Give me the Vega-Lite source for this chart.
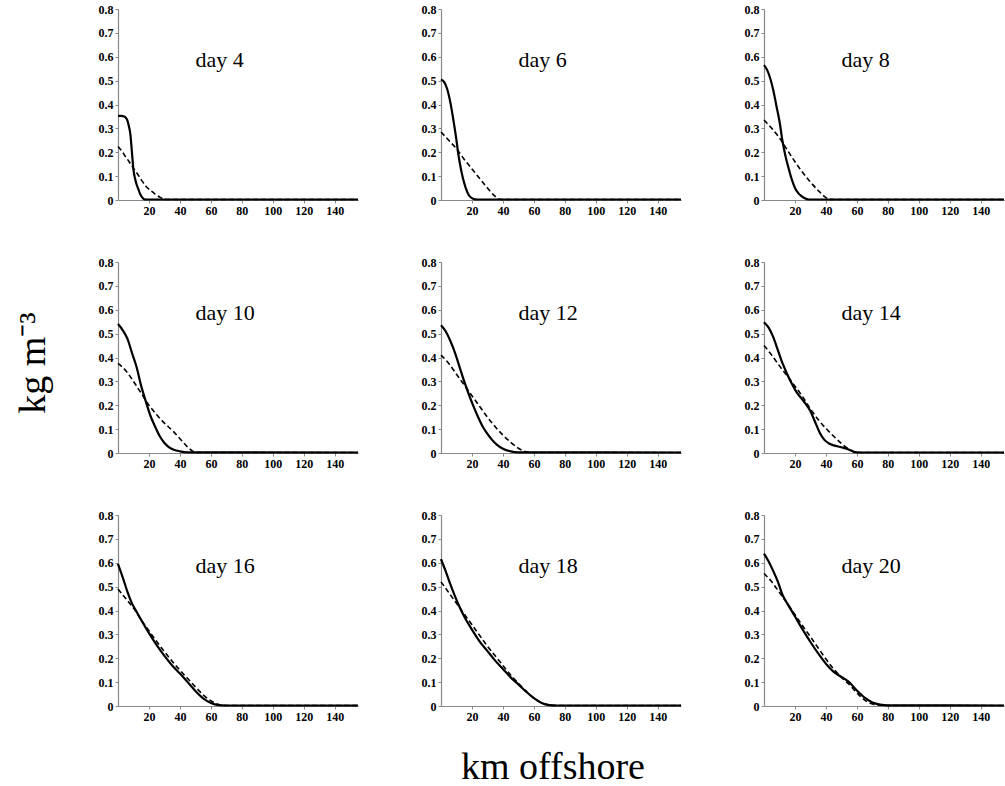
{
"$schema": "https://vega.github.io/schema/vega-lite/v6.json",
"background": "white",
"padding": {"left": 15, "top": 3, "right": 0, "bottom": 0},
"data": {"values": [
{"day":4,"row":1,"col":1,"series":"solid","km":0,"conc":0.352,"label":"day   4"},
{"day":4,"row":1,"col":1,"series":"solid","km":2,"conc":0.352},
{"day":4,"row":1,"col":1,"series":"solid","km":4,"conc":0.35},
{"day":4,"row":1,"col":1,"series":"solid","km":5,"conc":0.345},
{"day":4,"row":1,"col":1,"series":"solid","km":6,"conc":0.335},
{"day":4,"row":1,"col":1,"series":"solid","km":7,"conc":0.31},
{"day":4,"row":1,"col":1,"series":"solid","km":8,"conc":0.275},
{"day":4,"row":1,"col":1,"series":"solid","km":9,"conc":0.2},
{"day":4,"row":1,"col":1,"series":"solid","km":10,"conc":0.125},
{"day":4,"row":1,"col":1,"series":"solid","km":11,"conc":0.09},
{"day":4,"row":1,"col":1,"series":"solid","km":12,"conc":0.065},
{"day":4,"row":1,"col":1,"series":"solid","km":13,"conc":0.048},
{"day":4,"row":1,"col":1,"series":"solid","km":14,"conc":0.03},
{"day":4,"row":1,"col":1,"series":"solid","km":15,"conc":0.017},
{"day":4,"row":1,"col":1,"series":"solid","km":16,"conc":0.008},
{"day":4,"row":1,"col":1,"series":"solid","km":17,"conc":0.003},
{"day":4,"row":1,"col":1,"series":"solid","km":20,"conc":0.002},
{"day":4,"row":1,"col":1,"series":"solid","km":155,"conc":0.002},
{"day":4,"row":1,"col":1,"series":"dashed","km":0,"conc":0.224},
{"day":4,"row":1,"col":1,"series":"dashed","km":3,"conc":0.2},
{"day":4,"row":1,"col":1,"series":"dashed","km":5,"conc":0.18},
{"day":4,"row":1,"col":1,"series":"dashed","km":7,"conc":0.162},
{"day":4,"row":1,"col":1,"series":"dashed","km":9,"conc":0.142},
{"day":4,"row":1,"col":1,"series":"dashed","km":12,"conc":0.115},
{"day":4,"row":1,"col":1,"series":"dashed","km":15,"conc":0.085},
{"day":4,"row":1,"col":1,"series":"dashed","km":18,"conc":0.058},
{"day":4,"row":1,"col":1,"series":"dashed","km":21,"conc":0.04},
{"day":4,"row":1,"col":1,"series":"dashed","km":24,"conc":0.025},
{"day":4,"row":1,"col":1,"series":"dashed","km":27,"conc":0.012},
{"day":4,"row":1,"col":1,"series":"dashed","km":30,"conc":0.003},
{"day":4,"row":1,"col":1,"series":"dashed","km":33,"conc":0.002},
{"day":4,"row":1,"col":1,"series":"dashed","km":155,"conc":0.002},

{"day":6,"row":1,"col":2,"series":"solid","km":0,"conc":0.505,"label":"day   6"},
{"day":6,"row":1,"col":2,"series":"solid","km":2,"conc":0.495},
{"day":6,"row":1,"col":2,"series":"solid","km":4,"conc":0.465},
{"day":6,"row":1,"col":2,"series":"solid","km":6,"conc":0.41},
{"day":6,"row":1,"col":2,"series":"solid","km":8,"conc":0.335},
{"day":6,"row":1,"col":2,"series":"solid","km":10,"conc":0.25},
{"day":6,"row":1,"col":2,"series":"solid","km":11,"conc":0.2},
{"day":6,"row":1,"col":2,"series":"solid","km":12,"conc":0.16},
{"day":6,"row":1,"col":2,"series":"solid","km":14,"conc":0.095},
{"day":6,"row":1,"col":2,"series":"solid","km":16,"conc":0.05},
{"day":6,"row":1,"col":2,"series":"solid","km":18,"conc":0.02},
{"day":6,"row":1,"col":2,"series":"solid","km":20,"conc":0.008},
{"day":6,"row":1,"col":2,"series":"solid","km":22,"conc":0.003},
{"day":6,"row":1,"col":2,"series":"solid","km":25,"conc":0.002},
{"day":6,"row":1,"col":2,"series":"solid","km":155,"conc":0.002},
{"day":6,"row":1,"col":2,"series":"dashed","km":0,"conc":0.285},
{"day":6,"row":1,"col":2,"series":"dashed","km":5,"conc":0.25},
{"day":6,"row":1,"col":2,"series":"dashed","km":10,"conc":0.215},
{"day":6,"row":1,"col":2,"series":"dashed","km":15,"conc":0.17},
{"day":6,"row":1,"col":2,"series":"dashed","km":20,"conc":0.13},
{"day":6,"row":1,"col":2,"series":"dashed","km":25,"conc":0.09},
{"day":6,"row":1,"col":2,"series":"dashed","km":30,"conc":0.05},
{"day":6,"row":1,"col":2,"series":"dashed","km":35,"conc":0.015},
{"day":6,"row":1,"col":2,"series":"dashed","km":38,"conc":0.003},
{"day":6,"row":1,"col":2,"series":"dashed","km":40,"conc":0.002},
{"day":6,"row":1,"col":2,"series":"dashed","km":155,"conc":0.002},

{"day":8,"row":1,"col":3,"series":"solid","km":0,"conc":0.565,"label":"day   8"},
{"day":8,"row":1,"col":3,"series":"solid","km":2,"conc":0.545},
{"day":8,"row":1,"col":3,"series":"solid","km":4,"conc":0.51},
{"day":8,"row":1,"col":3,"series":"solid","km":6,"conc":0.46},
{"day":8,"row":1,"col":3,"series":"solid","km":8,"conc":0.395},
{"day":8,"row":1,"col":3,"series":"solid","km":10,"conc":0.33},
{"day":8,"row":1,"col":3,"series":"solid","km":12,"conc":0.245},
{"day":8,"row":1,"col":3,"series":"solid","km":14,"conc":0.18},
{"day":8,"row":1,"col":3,"series":"solid","km":16,"conc":0.13},
{"day":8,"row":1,"col":3,"series":"solid","km":18,"conc":0.085},
{"day":8,"row":1,"col":3,"series":"solid","km":20,"conc":0.05},
{"day":8,"row":1,"col":3,"series":"solid","km":22,"conc":0.03},
{"day":8,"row":1,"col":3,"series":"solid","km":24,"conc":0.017},
{"day":8,"row":1,"col":3,"series":"solid","km":26,"conc":0.008},
{"day":8,"row":1,"col":3,"series":"solid","km":29,"conc":0.002},
{"day":8,"row":1,"col":3,"series":"solid","km":155,"conc":0.002},
{"day":8,"row":1,"col":3,"series":"dashed","km":0,"conc":0.335},
{"day":8,"row":1,"col":3,"series":"dashed","km":5,"conc":0.3},
{"day":8,"row":1,"col":3,"series":"dashed","km":10,"conc":0.26},
{"day":8,"row":1,"col":3,"series":"dashed","km":15,"conc":0.21},
{"day":8,"row":1,"col":3,"series":"dashed","km":20,"conc":0.16},
{"day":8,"row":1,"col":3,"series":"dashed","km":25,"conc":0.115},
{"day":8,"row":1,"col":3,"series":"dashed","km":30,"conc":0.075},
{"day":8,"row":1,"col":3,"series":"dashed","km":35,"conc":0.04},
{"day":8,"row":1,"col":3,"series":"dashed","km":40,"conc":0.01},
{"day":8,"row":1,"col":3,"series":"dashed","km":42,"conc":0.003},
{"day":8,"row":1,"col":3,"series":"dashed","km":45,"conc":0.002},
{"day":8,"row":1,"col":3,"series":"dashed","km":155,"conc":0.002},

{"day":10,"row":2,"col":1,"series":"solid","km":0,"conc":0.54,"label":"day   10"},
{"day":10,"row":2,"col":1,"series":"solid","km":3,"conc":0.515},
{"day":10,"row":2,"col":1,"series":"solid","km":6,"conc":0.48},
{"day":10,"row":2,"col":1,"series":"solid","km":9,"conc":0.42},
{"day":10,"row":2,"col":1,"series":"solid","km":12,"conc":0.36},
{"day":10,"row":2,"col":1,"series":"solid","km":15,"conc":0.28},
{"day":10,"row":2,"col":1,"series":"solid","km":18,"conc":0.215},
{"day":10,"row":2,"col":1,"series":"solid","km":21,"conc":0.155},
{"day":10,"row":2,"col":1,"series":"solid","km":24,"conc":0.11},
{"day":10,"row":2,"col":1,"series":"solid","km":27,"conc":0.07},
{"day":10,"row":2,"col":1,"series":"solid","km":30,"conc":0.042},
{"day":10,"row":2,"col":1,"series":"solid","km":33,"conc":0.024},
{"day":10,"row":2,"col":1,"series":"solid","km":36,"conc":0.014},
{"day":10,"row":2,"col":1,"series":"solid","km":40,"conc":0.007},
{"day":10,"row":2,"col":1,"series":"solid","km":45,"conc":0.003},
{"day":10,"row":2,"col":1,"series":"solid","km":155,"conc":0.002},
{"day":10,"row":2,"col":1,"series":"dashed","km":0,"conc":0.375},
{"day":10,"row":2,"col":1,"series":"dashed","km":5,"conc":0.345},
{"day":10,"row":2,"col":1,"series":"dashed","km":10,"conc":0.3},
{"day":10,"row":2,"col":1,"series":"dashed","km":15,"conc":0.25},
{"day":10,"row":2,"col":1,"series":"dashed","km":20,"conc":0.2},
{"day":10,"row":2,"col":1,"series":"dashed","km":25,"conc":0.16},
{"day":10,"row":2,"col":1,"series":"dashed","km":30,"conc":0.125},
{"day":10,"row":2,"col":1,"series":"dashed","km":35,"conc":0.095},
{"day":10,"row":2,"col":1,"series":"dashed","km":40,"conc":0.06},
{"day":10,"row":2,"col":1,"series":"dashed","km":45,"conc":0.025},
{"day":10,"row":2,"col":1,"series":"dashed","km":49,"conc":0.005},
{"day":10,"row":2,"col":1,"series":"dashed","km":52,"conc":0.002},
{"day":10,"row":2,"col":1,"series":"dashed","km":155,"conc":0.002},

{"day":12,"row":2,"col":2,"series":"solid","km":0,"conc":0.535,"label":"day   12"},
{"day":12,"row":2,"col":2,"series":"solid","km":3,"conc":0.51},
{"day":12,"row":2,"col":2,"series":"solid","km":6,"conc":0.47},
{"day":12,"row":2,"col":2,"series":"solid","km":9,"conc":0.42},
{"day":12,"row":2,"col":2,"series":"solid","km":12,"conc":0.36},
{"day":12,"row":2,"col":2,"series":"solid","km":15,"conc":0.3},
{"day":12,"row":2,"col":2,"series":"solid","km":18,"conc":0.245},
{"day":12,"row":2,"col":2,"series":"solid","km":21,"conc":0.195},
{"day":12,"row":2,"col":2,"series":"solid","km":24,"conc":0.15},
{"day":12,"row":2,"col":2,"series":"solid","km":27,"conc":0.11},
{"day":12,"row":2,"col":2,"series":"solid","km":30,"conc":0.08},
{"day":12,"row":2,"col":2,"series":"solid","km":33,"conc":0.055},
{"day":12,"row":2,"col":2,"series":"solid","km":36,"conc":0.035},
{"day":12,"row":2,"col":2,"series":"solid","km":40,"conc":0.018},
{"day":12,"row":2,"col":2,"series":"solid","km":45,"conc":0.007},
{"day":12,"row":2,"col":2,"series":"solid","km":50,"conc":0.003},
{"day":12,"row":2,"col":2,"series":"solid","km":155,"conc":0.002},
{"day":12,"row":2,"col":2,"series":"dashed","km":0,"conc":0.41},
{"day":12,"row":2,"col":2,"series":"dashed","km":5,"conc":0.375},
{"day":12,"row":2,"col":2,"series":"dashed","km":10,"conc":0.33},
{"day":12,"row":2,"col":2,"series":"dashed","km":15,"conc":0.285},
{"day":12,"row":2,"col":2,"series":"dashed","km":20,"conc":0.24},
{"day":12,"row":2,"col":2,"series":"dashed","km":25,"conc":0.195},
{"day":12,"row":2,"col":2,"series":"dashed","km":30,"conc":0.15},
{"day":12,"row":2,"col":2,"series":"dashed","km":35,"conc":0.11},
{"day":12,"row":2,"col":2,"series":"dashed","km":40,"conc":0.075},
{"day":12,"row":2,"col":2,"series":"dashed","km":45,"conc":0.045},
{"day":12,"row":2,"col":2,"series":"dashed","km":50,"conc":0.02},
{"day":12,"row":2,"col":2,"series":"dashed","km":55,"conc":0.005},
{"day":12,"row":2,"col":2,"series":"dashed","km":58,"conc":0.002},
{"day":12,"row":2,"col":2,"series":"dashed","km":155,"conc":0.002},

{"day":14,"row":2,"col":3,"series":"solid","km":0,"conc":0.548,"label":"day   14"},
{"day":14,"row":2,"col":3,"series":"solid","km":3,"conc":0.525},
{"day":14,"row":2,"col":3,"series":"solid","km":6,"conc":0.485},
{"day":14,"row":2,"col":3,"series":"solid","km":9,"conc":0.43},
{"day":14,"row":2,"col":3,"series":"solid","km":12,"conc":0.375},
{"day":14,"row":2,"col":3,"series":"solid","km":15,"conc":0.33},
{"day":14,"row":2,"col":3,"series":"solid","km":18,"conc":0.29},
{"day":14,"row":2,"col":3,"series":"solid","km":21,"conc":0.255},
{"day":14,"row":2,"col":3,"series":"solid","km":24,"conc":0.23},
{"day":14,"row":2,"col":3,"series":"solid","km":27,"conc":0.205},
{"day":14,"row":2,"col":3,"series":"solid","km":30,"conc":0.175},
{"day":14,"row":2,"col":3,"series":"solid","km":33,"conc":0.13},
{"day":14,"row":2,"col":3,"series":"solid","km":36,"conc":0.085},
{"day":14,"row":2,"col":3,"series":"solid","km":39,"conc":0.055},
{"day":14,"row":2,"col":3,"series":"solid","km":42,"conc":0.04},
{"day":14,"row":2,"col":3,"series":"solid","km":45,"conc":0.032},
{"day":14,"row":2,"col":3,"series":"solid","km":50,"conc":0.024},
{"day":14,"row":2,"col":3,"series":"solid","km":55,"conc":0.014},
{"day":14,"row":2,"col":3,"series":"solid","km":58,"conc":0.005},
{"day":14,"row":2,"col":3,"series":"solid","km":62,"conc":0.002},
{"day":14,"row":2,"col":3,"series":"solid","km":155,"conc":0.002},
{"day":14,"row":2,"col":3,"series":"dashed","km":0,"conc":0.45},
{"day":14,"row":2,"col":3,"series":"dashed","km":5,"conc":0.41},
{"day":14,"row":2,"col":3,"series":"dashed","km":10,"conc":0.365},
{"day":14,"row":2,"col":3,"series":"dashed","km":15,"conc":0.323},
{"day":14,"row":2,"col":3,"series":"dashed","km":20,"conc":0.28},
{"day":14,"row":2,"col":3,"series":"dashed","km":25,"conc":0.235},
{"day":14,"row":2,"col":3,"series":"dashed","km":30,"conc":0.185},
{"day":14,"row":2,"col":3,"series":"dashed","km":35,"conc":0.14},
{"day":14,"row":2,"col":3,"series":"dashed","km":40,"conc":0.103},
{"day":14,"row":2,"col":3,"series":"dashed","km":45,"conc":0.07},
{"day":14,"row":2,"col":3,"series":"dashed","km":50,"conc":0.04},
{"day":14,"row":2,"col":3,"series":"dashed","km":55,"conc":0.015},
{"day":14,"row":2,"col":3,"series":"dashed","km":58,"conc":0.005},
{"day":14,"row":2,"col":3,"series":"dashed","km":61,"conc":0.002},
{"day":14,"row":2,"col":3,"series":"dashed","km":155,"conc":0.002},

{"day":16,"row":3,"col":1,"series":"solid","km":0,"conc":0.595,"label":"day   16"},
{"day":16,"row":3,"col":1,"series":"solid","km":3,"conc":0.54},
{"day":16,"row":3,"col":1,"series":"solid","km":6,"conc":0.48},
{"day":16,"row":3,"col":1,"series":"solid","km":9,"conc":0.43},
{"day":16,"row":3,"col":1,"series":"solid","km":12,"conc":0.395},
{"day":16,"row":3,"col":1,"series":"solid","km":15,"conc":0.36},
{"day":16,"row":3,"col":1,"series":"solid","km":20,"conc":0.305},
{"day":16,"row":3,"col":1,"series":"solid","km":25,"conc":0.255},
{"day":16,"row":3,"col":1,"series":"solid","km":30,"conc":0.21},
{"day":16,"row":3,"col":1,"series":"solid","km":35,"conc":0.17},
{"day":16,"row":3,"col":1,"series":"solid","km":40,"conc":0.136},
{"day":16,"row":3,"col":1,"series":"solid","km":45,"conc":0.1},
{"day":16,"row":3,"col":1,"series":"solid","km":50,"conc":0.063},
{"day":16,"row":3,"col":1,"series":"solid","km":55,"conc":0.032},
{"day":16,"row":3,"col":1,"series":"solid","km":60,"conc":0.013},
{"day":16,"row":3,"col":1,"series":"solid","km":65,"conc":0.004},
{"day":16,"row":3,"col":1,"series":"solid","km":70,"conc":0.002},
{"day":16,"row":3,"col":1,"series":"solid","km":155,"conc":0.002},
{"day":16,"row":3,"col":1,"series":"dashed","km":0,"conc":0.49},
{"day":16,"row":3,"col":1,"series":"dashed","km":5,"conc":0.45},
{"day":16,"row":3,"col":1,"series":"dashed","km":10,"conc":0.41},
{"day":16,"row":3,"col":1,"series":"dashed","km":15,"conc":0.36},
{"day":16,"row":3,"col":1,"series":"dashed","km":20,"conc":0.315},
{"day":16,"row":3,"col":1,"series":"dashed","km":25,"conc":0.27},
{"day":16,"row":3,"col":1,"series":"dashed","km":30,"conc":0.228},
{"day":16,"row":3,"col":1,"series":"dashed","km":35,"conc":0.187},
{"day":16,"row":3,"col":1,"series":"dashed","km":40,"conc":0.15},
{"day":16,"row":3,"col":1,"series":"dashed","km":45,"conc":0.115},
{"day":16,"row":3,"col":1,"series":"dashed","km":50,"conc":0.08},
{"day":16,"row":3,"col":1,"series":"dashed","km":55,"conc":0.047},
{"day":16,"row":3,"col":1,"series":"dashed","km":60,"conc":0.022},
{"day":16,"row":3,"col":1,"series":"dashed","km":64,"conc":0.008},
{"day":16,"row":3,"col":1,"series":"dashed","km":68,"conc":0.003},
{"day":16,"row":3,"col":1,"series":"dashed","km":70,"conc":0.002},
{"day":16,"row":3,"col":1,"series":"dashed","km":155,"conc":0.002},

{"day":18,"row":3,"col":2,"series":"solid","km":0,"conc":0.615,"label":"day   18"},
{"day":18,"row":3,"col":2,"series":"solid","km":3,"conc":0.565},
{"day":18,"row":3,"col":2,"series":"solid","km":6,"conc":0.51},
{"day":18,"row":3,"col":2,"series":"solid","km":9,"conc":0.46},
{"day":18,"row":3,"col":2,"series":"solid","km":12,"conc":0.415},
{"day":18,"row":3,"col":2,"series":"solid","km":15,"conc":0.375},
{"day":18,"row":3,"col":2,"series":"solid","km":20,"conc":0.32},
{"day":18,"row":3,"col":2,"series":"solid","km":25,"conc":0.27},
{"day":18,"row":3,"col":2,"series":"solid","km":30,"conc":0.23},
{"day":18,"row":3,"col":2,"series":"solid","km":35,"conc":0.19},
{"day":18,"row":3,"col":2,"series":"solid","km":40,"conc":0.155},
{"day":18,"row":3,"col":2,"series":"solid","km":45,"conc":0.12},
{"day":18,"row":3,"col":2,"series":"solid","km":50,"conc":0.09},
{"day":18,"row":3,"col":2,"series":"solid","km":55,"conc":0.06},
{"day":18,"row":3,"col":2,"series":"solid","km":60,"conc":0.033},
{"day":18,"row":3,"col":2,"series":"solid","km":65,"conc":0.013},
{"day":18,"row":3,"col":2,"series":"solid","km":70,"conc":0.004},
{"day":18,"row":3,"col":2,"series":"solid","km":75,"conc":0.002},
{"day":18,"row":3,"col":2,"series":"solid","km":155,"conc":0.002},
{"day":18,"row":3,"col":2,"series":"dashed","km":0,"conc":0.52},
{"day":18,"row":3,"col":2,"series":"dashed","km":5,"conc":0.475},
{"day":18,"row":3,"col":2,"series":"dashed","km":10,"conc":0.43},
{"day":18,"row":3,"col":2,"series":"dashed","km":15,"conc":0.385},
{"day":18,"row":3,"col":2,"series":"dashed","km":20,"conc":0.34},
{"day":18,"row":3,"col":2,"series":"dashed","km":25,"conc":0.295},
{"day":18,"row":3,"col":2,"series":"dashed","km":30,"conc":0.25},
{"day":18,"row":3,"col":2,"series":"dashed","km":35,"conc":0.21},
{"day":18,"row":3,"col":2,"series":"dashed","km":40,"conc":0.17},
{"day":18,"row":3,"col":2,"series":"dashed","km":45,"conc":0.13},
{"day":18,"row":3,"col":2,"series":"dashed","km":50,"conc":0.095},
{"day":18,"row":3,"col":2,"series":"dashed","km":55,"conc":0.062},
{"day":18,"row":3,"col":2,"series":"dashed","km":60,"conc":0.033},
{"day":18,"row":3,"col":2,"series":"dashed","km":65,"conc":0.013},
{"day":18,"row":3,"col":2,"series":"dashed","km":70,"conc":0.004},
{"day":18,"row":3,"col":2,"series":"dashed","km":75,"conc":0.002},
{"day":18,"row":3,"col":2,"series":"dashed","km":155,"conc":0.002},

{"day":20,"row":3,"col":3,"series":"solid","km":0,"conc":0.638,"label":"day   20"},
{"day":20,"row":3,"col":3,"series":"solid","km":3,"conc":0.605},
{"day":20,"row":3,"col":3,"series":"solid","km":6,"conc":0.565},
{"day":20,"row":3,"col":3,"series":"solid","km":9,"conc":0.52},
{"day":20,"row":3,"col":3,"series":"solid","km":12,"conc":0.465},
{"day":20,"row":3,"col":3,"series":"solid","km":15,"conc":0.43},
{"day":20,"row":3,"col":3,"series":"solid","km":20,"conc":0.375},
{"day":20,"row":3,"col":3,"series":"solid","km":25,"conc":0.32},
{"day":20,"row":3,"col":3,"series":"solid","km":30,"conc":0.268},
{"day":20,"row":3,"col":3,"series":"solid","km":35,"conc":0.22},
{"day":20,"row":3,"col":3,"series":"solid","km":40,"conc":0.177},
{"day":20,"row":3,"col":3,"series":"solid","km":45,"conc":0.143},
{"day":20,"row":3,"col":3,"series":"solid","km":50,"conc":0.122},
{"day":20,"row":3,"col":3,"series":"solid","km":55,"conc":0.1},
{"day":20,"row":3,"col":3,"series":"solid","km":60,"conc":0.065},
{"day":20,"row":3,"col":3,"series":"solid","km":65,"conc":0.035},
{"day":20,"row":3,"col":3,"series":"solid","km":70,"conc":0.015},
{"day":20,"row":3,"col":3,"series":"solid","km":75,"conc":0.006},
{"day":20,"row":3,"col":3,"series":"solid","km":80,"conc":0.003},
{"day":20,"row":3,"col":3,"series":"solid","km":155,"conc":0.002},
{"day":20,"row":3,"col":3,"series":"dashed","km":0,"conc":0.555},
{"day":20,"row":3,"col":3,"series":"dashed","km":5,"conc":0.52},
{"day":20,"row":3,"col":3,"series":"dashed","km":10,"conc":0.475},
{"day":20,"row":3,"col":3,"series":"dashed","km":15,"conc":0.43},
{"day":20,"row":3,"col":3,"series":"dashed","km":20,"conc":0.383},
{"day":20,"row":3,"col":3,"series":"dashed","km":25,"conc":0.335},
{"day":20,"row":3,"col":3,"series":"dashed","km":30,"conc":0.29},
{"day":20,"row":3,"col":3,"series":"dashed","km":35,"conc":0.243},
{"day":20,"row":3,"col":3,"series":"dashed","km":40,"conc":0.197},
{"day":20,"row":3,"col":3,"series":"dashed","km":45,"conc":0.155},
{"day":20,"row":3,"col":3,"series":"dashed","km":50,"conc":0.12},
{"day":20,"row":3,"col":3,"series":"dashed","km":55,"conc":0.09},
{"day":20,"row":3,"col":3,"series":"dashed","km":60,"conc":0.055},
{"day":20,"row":3,"col":3,"series":"dashed","km":65,"conc":0.025},
{"day":20,"row":3,"col":3,"series":"dashed","km":70,"conc":0.008},
{"day":20,"row":3,"col":3,"series":"dashed","km":75,"conc":0.003},
{"day":20,"row":3,"col":3,"series":"dashed","km":80,"conc":0.002},
{"day":20,"row":3,"col":3,"series":"dashed","km":155,"conc":0.002}
]},
"facet": {
  "row": {"field": "row", "type": "ordinal", "header": {"labels": false, "title": "kg m⁻³", "titleFont": "Liberation Serif", "titleFontSize": 38, "titleFontWeight": "normal", "titleColor": "black", "titlePadding": 55}},
  "column": {"field": "col", "type": "ordinal", "header": {"labels": false, "labelOrient": "bottom", "title": "km offshore", "titleOrient": "bottom", "titleFont": "Liberation Serif", "titleFontSize": 38, "titleFontWeight": "normal", "titleColor": "black", "titlePadding": 33}}
},
"spacing": {"row": 62, "column": 83},
"bounds": "flush",
"resolve": {"axis": {"x": "independent", "y": "independent"}},
"spec": {
  "width": 240,
  "height": 191,
  "layer": [
    {
      "transform": [{"filter": "datum.series == 'dashed'"}],
      "mark": {"type": "line", "color": "black", "strokeWidth": 1.6, "strokeDash": [5, 3], "interpolate": "monotone"},
      "encoding": {
        "x": {"field": "km", "type": "quantitative", "scale": {"domain": [0, 155], "nice": false, "zero": false},
              "axis": {"values": [20, 40, 60, 80, 100, 120, 140], "tickCount": 20, "title": null, "labelOverlap": false}},
        "y": {"field": "conc", "type": "quantitative", "scale": {"domain": [0, 0.8], "nice": false},
              "axis": {"values": [0, 0.1, 0.2, 0.3, 0.4, 0.5, 0.6, 0.7, 0.8], "tickCount": 20, "format": ".1~f", "title": null, "labelOverlap": false}}
      }
    },
    {
      "transform": [{"filter": "datum.series == 'solid'"}],
      "mark": {"type": "line", "color": "black", "strokeWidth": 2.2, "interpolate": "monotone"},
      "encoding": {
        "x": {"field": "km", "type": "quantitative"},
        "y": {"field": "conc", "type": "quantitative"}
      }
    },
    {
      "transform": [{"filter": "datum.series == 'solid' && datum.km == 0"}],
      "mark": {"type": "text", "font": "Liberation Serif", "fontSize": 22, "align": "left", "baseline": "middle", "color": "black"},
      "encoding": {
        "x": {"datum": 50, "type": "quantitative"},
        "y": {"datum": 0.585, "type": "quantitative"},
        "text": {"field": "label"}
      }
    }
  ]
},
"config": {
  "view": {"stroke": null},
  "axis": {
    "grid": false,
    "labelFont": "Liberation Serif",
    "labelFontWeight": "bold",
    "labelFontSize": 12,
    "labelColor": "black",
    "labelOverlap": false,
    "domainColor": "#888888",
    "domainWidth": 1.2,
    "tickColor": "#888888",
    "tickSize": 3,
    "labelPadding": 2
  }
}
}
